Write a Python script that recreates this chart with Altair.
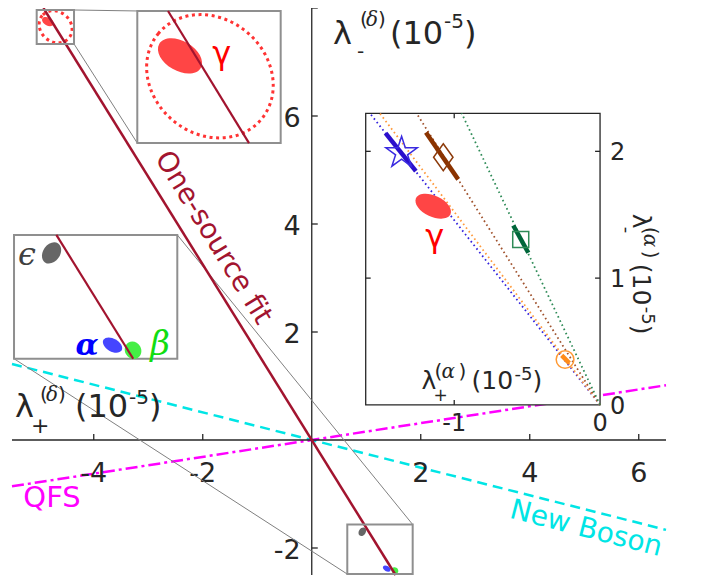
import altair as alt
import numpy as np
import pandas as pd

# ---------------- data ----------------
MAIN_X = [-5.5, 6.5]
MAIN_Y = [-2.5, 8.0]
X_TICKS = [-4, -2, 2, 4, 6]
X_TICK_TEXT = ["-4", "-2", "2", "4", "6"]
Y_TICKS = [-2, 2, 4, 6, 8]
Y_TICK_TEXT = ["-2", "2", "4", "6", ""]

FIT_SLOPE = -1.625      # one-source fit through the origin
QFS_SLOPE = 0.156
BOSON_SLOPE = -0.256

ELL_NAME = ["gamma", "epsilon", "alpha", "beta"]
ELL_X = [-4.843, 0.928, 1.376, 1.527]
ELL_Y = [7.749, -1.699, -2.382, -2.420]
GAMMA_CL_X = [-4.700]
GAMMA_CL_Y = [7.652]

TOP_SMALL_X = [-5.047, -4.362]
TOP_SMALL_Y = [7.334, 7.963]
TOP_BIG_X = [-3.201, -0.570]
TOP_BIG_Y = [5.499, 7.945]
BOT_SMALL_X = [0.652, 1.852]
BOT_SMALL_Y = [-2.483, -1.565]
BOT_BIG_X = [-5.463, -2.467]
BOT_BIG_Y = [1.505, 3.798]

INSET_POS_X = [0.99, 5.29]
INSET_POS_Y = [0.65, 6.05]
INSET_X = [-1.607, 0.0]
INSET_Y = [0.0, 2.3]
INSET_X_TICKS = [-1, 0]
INSET_X_TICK_TEXT = ["-1", "0"]
INSET_Y_TICKS = [0, 1, 2]
INSET_Y_TICK_TEXT = ["0", "1", "2"]

SRC = ["blue", "orange", "brown", "green"]
SRC_SLOPE = [-1.457, -1.523, -1.828, -2.423]
SRC_X = [-1.361, -0.240, -1.075, -0.544]
SRC_Y = [1.988, 0.358, 1.953, 1.304]
SEG_X1 = [-1.471, -0.263, -1.194, -0.595]
SEG_Y1 = [2.143, 0.390, 2.148, 1.415]
SEG_X2 = [-1.263, -0.211, -0.973, -0.492]
SEG_Y2 = [1.844, 0.330, 1.779, 1.200]
INSET_GAMMA_X = [-1.144]
INSET_GAMMA_Y = [1.567]

# label anchor positions (data coordinates of the frame they belong to)
LBL_FIT = (-1.812, 3.743)
LBL_QFS = (-4.766, -1.083)
LBL_BOSON = (5.033, -1.651)
LBL_GAMMA_BIG = (-1.652, 7.156)
LBL_EPS = (-5.225, 3.431)
LBL_ALPHA = (-4.124, 1.743)
LBL_BETA = (-2.784, 1.761)
LBL_YLAB = (0.39, 7.34)
LBL_XLAB = (-5.445, 0.422)
INS_LBL_GAMMA = (-1.133, 1.327)
INS_LBL_X = (-1.224, 0.127)
INS_LBL_Y = (0.2265, 1.507)

# ---------------- styles ----------------
W, H = 654, 567
PXX = W / (MAIN_X[1] - MAIN_X[0])
PXY = H / (MAIN_Y[1] - MAIN_Y[0])
AX = "#262626"
SANS = "DejaVu Sans"
SERIF = "DejaVu Serif"
C_FIT = "#A2142F"
C_QFS = "#FF00FF"
C_NB = "#00E5E5"
C_BOX = "#8F8F8F"

ELL_A_BIG = [24, 11.5, 10.5, 9.0]     # semi-major axis (px) as drawn in the magnified boxes
ELL_RATIO = [0.62, 0.74, 0.62, 0.9]
ELL_ANGLE = [30, 305, 30, 60]
ELL_COLOR = ["#FF4545", "#666666", "#4545FF", "#45EE45"]
CL_A_BIG, CL_RATIO, CL_ANGLE = 67, 0.86, 40

SRC_LINE_COLOR = ["#3322DD", "#FF9A3C", "#A0522D", "#2E8B57"]
SRC_SEG_COLOR = ["#2B0FCC", "#FF8C1A", "#8B3300", "#00663A"]
SRC_MARK_COLOR = ["#3A2BE0", "#FF9933", "#8C3A0A", "#2E8B57"]


def sc(d):
    return alt.Scale(domain=[float(d[0]), float(d[1])], nice=False, zero=False)


def mapped(main_dom, big, small):
    k = (small[1] - small[0]) / (big[1] - big[0])
    return [small[0] + (main_dom[0] - big[0]) * k, small[0] + (main_dom[1] - big[0]) * k]


FR_MAIN = (MAIN_X, MAIN_Y)
FR_TOP = (mapped(MAIN_X, TOP_BIG_X, TOP_SMALL_X), mapped(MAIN_Y, TOP_BIG_Y, TOP_SMALL_Y))
FR_BOT = (mapped(MAIN_X, BOT_BIG_X, BOT_SMALL_X), mapped(MAIN_Y, BOT_BIG_Y, BOT_SMALL_Y))
FR_INS = (mapped(MAIN_X, INSET_POS_X, INSET_X), mapped(MAIN_Y, INSET_POS_Y, INSET_Y))

M_TOP = (TOP_BIG_X[1] - TOP_BIG_X[0]) / (TOP_SMALL_X[1] - TOP_SMALL_X[0])
M_BOT = (BOT_BIG_X[1] - BOT_BIG_X[0]) / (BOT_SMALL_X[1] - BOT_SMALL_X[0])
IPX = (INSET_POS_X[1] - INSET_POS_X[0]) * PXX / (INSET_X[1] - INSET_X[0])
IPY = (INSET_POS_Y[1] - INSET_POS_Y[0]) * PXY / (INSET_Y[1] - INSET_Y[0])


def pos(fr):
    return dict(x=alt.X("x:Q", scale=sc(fr[0]), axis=None),
                y=alt.Y("y:Q", scale=sc(fr[1]), axis=None))


def seg_layer(fr, x1, y1, x2, y2, color=None, colors=None, **kw):
    df = pd.DataFrame({"x": x1, "y": y1, "x2": x2, "y2": y2})
    enc = pos(fr)
    enc.update(x2="x2:Q", y2="y2:Q")
    if colors is not None:
        df["c"] = colors
        enc["color"] = alt.Color("c:N", scale=None)
        return alt.Chart(df).mark_rule(**kw).encode(**enc)
    return alt.Chart(df).mark_rule(color=color, **kw).encode(**enc)


def rect_layer(fr, xr, yr, **kw):
    df = pd.DataFrame({"x": [xr[0]], "x2": [xr[1]], "y": [yr[0]], "y2": [yr[1]]})
    enc = pos(fr)
    enc.update(x2="x2:Q", y2="y2:Q")
    return alt.Chart(df).mark_rect(**kw).encode(**enc)


def ellipse_path(r):
    return f"M -1 0 A 1 {r} 0 1 0 1 0 A 1 {r} 0 1 0 -1 0 Z"


def star_path(inner=0.382):
    pts = []
    for k in range(10):
        r = 1.0 if k % 2 == 0 else inner
        th = -np.pi / 2 + k * np.pi / 5
        pts.append((r * np.cos(th), r * np.sin(th)))
    return "M " + " L ".join(f"{a:.3f} {b:.3f}" for a, b in pts) + " Z"


DIAMOND = "M 0 -1 L 0.72 0 L 0 1 L -0.72 0 Z"


def sym_layer(fr, xs, ys, shapes, sizes, angles, colors, filled, **kw):
    df = pd.DataFrame(dict(x=xs, y=ys, shape=shapes, size=sizes, angle=angles, c=colors))
    enc = pos(fr)
    enc.update(shape=alt.Shape("shape:N", scale=None), size=alt.Size("size:Q", scale=None),
               angle=alt.Angle("angle:Q", scale=None), color=alt.Color("c:N", scale=None))
    return alt.Chart(df).mark_point(filled=filled, opacity=1, **kw).encode(**enc)


def texts_layer(fr, xs, ys, texts, **kw):
    df = pd.DataFrame({"x": xs, "y": ys, "t": texts})
    enc = pos(fr)
    enc["text"] = alt.Text("t:N")
    return alt.Chart(df).mark_text(**kw).encode(**enc)


def text_layer(fr, xy, text, **kw):
    df = pd.DataFrame({"x": [xy[0]], "y": [xy[1]]})
    return alt.Chart(df).mark_text(text=text, **kw).encode(**pos(fr))


def rich(fr, xy, parts, angle=0, color=AX):
    out = []
    for txt, dx, dy, size, font, style in parts:
        kw = dict(dx=dx, dy=dy, fontSize=size, font=font, align="left",
                  baseline="alphabetic", color=color)
        if style:
            kw["fontStyle"] = style
        if angle:
            kw["angle"] = angle
        out.append(text_layer(fr, xy, txt, **kw))
    return out


def clip_origin_line(slope, bx, by):
    xs = sorted([by[0] / slope, by[1] / slope])
    lo, hi = max(bx[0], xs[0]), min(bx[1], xs[1])
    return lo, slope * lo, hi, slope * hi


layers = []

# ---- model lines ----
layers.append(seg_layer(FR_MAIN, [MAIN_X[0]], [BOSON_SLOPE * MAIN_X[0]], [MAIN_X[1]], [BOSON_SLOPE * MAIN_X[1]],
                        color=C_NB, strokeWidth=2.5, strokeDash=[10, 6]))
layers.append(seg_layer(FR_MAIN, [MAIN_X[0]], [QFS_SLOPE * MAIN_X[0]], [MAIN_X[1]], [QFS_SLOPE * MAIN_X[1]],
                        color=C_QFS, strokeWidth=2.5, strokeDash=[12, 4, 3, 4]))

# ---- main axes through the origin ----
layers.append(seg_layer(FR_MAIN, [MAIN_X[0], 0], [0, MAIN_Y[0]], [MAIN_X[1], 0], [0, MAIN_Y[1]],
                        color=AX, strokeWidth=1.3))
nxt, nyt = len(X_TICKS), len(Y_TICKS)
layers.append(seg_layer(FR_MAIN, X_TICKS, [0] * nxt, X_TICKS, [6 / PXY] * nxt, color=AX, strokeWidth=1.3))
layers.append(seg_layer(FR_MAIN, [0] * nyt, Y_TICKS, [6 / PXX] * nyt, Y_TICKS, color=AX, strokeWidth=1.3))
layers.append(texts_layer(FR_MAIN, X_TICKS, [0] * nxt, X_TICK_TEXT, dy=34, align="center",
                          baseline="middle", font=SANS, fontSize=27, color=AX))
yl = [(t, s) for t, s in zip(Y_TICKS, Y_TICK_TEXT) if s]
layers.append(texts_layer(FR_MAIN, [0] * len(yl), [t for t, _ in yl], [s for _, s in yl], dx=-11, dy=3,
                          align="right", baseline="middle", font=SANS, fontSize=27, color=AX))

# ---- connectors of the magnifiers ----
layers.append(seg_layer(
    FR_MAIN,
    [TOP_SMALL_X[1], TOP_SMALL_X[1], BOT_BIG_X[1], BOT_BIG_X[0]],
    [TOP_SMALL_Y[1], TOP_SMALL_Y[0], BOT_BIG_Y[1], BOT_BIG_Y[0]],
    [TOP_BIG_X[0], TOP_BIG_X[0], BOT_SMALL_X[1], BOT_SMALL_X[0]],
    [TOP_BIG_Y[1], TOP_BIG_Y[0], BOT_SMALL_Y[1], BOT_SMALL_Y[0]],
    color="#808080", strokeWidth=1))
layers.append(rect_layer(FR_MAIN, TOP_BIG_X, TOP_BIG_Y, fill="white", stroke=C_BOX, strokeWidth=2))
layers.append(rect_layer(FR_MAIN, BOT_BIG_X, BOT_BIG_Y, fill="white", stroke=C_BOX, strokeWidth=2))

# ---- ellipses at true scale ----
mags = [M_TOP, M_BOT, M_BOT, M_BOT]
layers.append(sym_layer(FR_MAIN, ELL_X, ELL_Y, [ellipse_path(r) for r in ELL_RATIO],
                        [(2 * a / m) ** 2 for a, m in zip(ELL_A_BIG, mags)], ELL_ANGLE, ELL_COLOR, True))
layers.append(sym_layer(FR_MAIN, GAMMA_CL_X, GAMMA_CL_Y, [ellipse_path(CL_RATIO)],
                        [(2 * CL_A_BIG / M_TOP) ** 2], [CL_ANGLE], ["#FF3333"], False,
                        strokeWidth=3, strokeDash=[3, 3.5]))
layers.append(seg_layer(FR_MAIN, [MAIN_Y[1] / FIT_SLOPE], [MAIN_Y[1]], [MAIN_Y[0] / FIT_SLOPE], [MAIN_Y[0]],
                        color=C_FIT, strokeWidth=2.5))
layers.append(rect_layer(FR_MAIN, TOP_SMALL_X, TOP_SMALL_Y, fill="white", fillOpacity=0, stroke=C_BOX, strokeWidth=2))
layers.append(rect_layer(FR_MAIN, BOT_SMALL_X, BOT_SMALL_Y, fill="white", fillOpacity=0, stroke=C_BOX, strokeWidth=2))

# ---- magnified content ----
layers.append(sym_layer(FR_TOP, ELL_X[:1], ELL_Y[:1], [ellipse_path(ELL_RATIO[0])],
                        [(2 * ELL_A_BIG[0]) ** 2], ELL_ANGLE[:1], ELL_COLOR[:1], True))
layers.append(sym_layer(FR_TOP, GAMMA_CL_X, GAMMA_CL_Y, [ellipse_path(CL_RATIO)],
                        [(2 * CL_A_BIG) ** 2], [CL_ANGLE], ["#FF3333"], False,
                        strokeWidth=3, strokeDash=[3, 3.6]))
x1, y1, x2, y2 = clip_origin_line(FIT_SLOPE, TOP_SMALL_X, TOP_SMALL_Y)
layers.append(seg_layer(FR_TOP, [x1], [y1], [x2], [y2], color=C_FIT, strokeWidth=2.2))
layers.append(sym_layer(FR_BOT, ELL_X[1:], ELL_Y[1:], [ellipse_path(r) for r in ELL_RATIO[1:]],
                        [(2 * a) ** 2 for a in ELL_A_BIG[1:]], ELL_ANGLE[1:], ELL_COLOR[1:], True))
x1, y1, x2, y2 = clip_origin_line(FIT_SLOPE, BOT_SMALL_X, BOT_SMALL_Y)
layers.append(seg_layer(FR_BOT, [x1], [y1], [x2], [y2], color=C_FIT, strokeWidth=2.2))

# ---- annotations ----
layers.append(text_layer(FR_MAIN, LBL_FIT, "One-source fit", angle=58.4, align="center", baseline="middle",
                         font=SANS, fontSize=28, color=C_FIT))
layers.append(text_layer(FR_MAIN, LBL_QFS, "QFS", align="center", baseline="middle",
                         font=SANS, fontSize=29, color=C_QFS))
layers.append(text_layer(FR_MAIN, LBL_BOSON, "New Boson", angle=14.4, align="center", baseline="middle",
                         font=SANS, fontSize=28, color=C_NB))
layers.append(text_layer(FR_MAIN, LBL_GAMMA_BIG, "γ", align="center", baseline="middle",
                         font=SANS, fontSize=32, color="#FF0000"))
layers.append(text_layer(FR_MAIN, LBL_EPS, "ϵ", align="center", baseline="middle",
                         font=SERIF, fontStyle="italic", fontSize=32, color="#404040"))
layers.append(text_layer(FR_MAIN, LBL_ALPHA, "α", align="center", baseline="middle",
                         font=SERIF, fontStyle="italic", fontWeight="bold", fontSize=30, color="#0000FF"))
layers.append(text_layer(FR_MAIN, LBL_BETA, "β", align="center", baseline="middle",
                         font=SERIF, fontStyle="italic", fontSize=34, color="#11DD11"))

# ---- main axis labels ----
layers += rich(FR_MAIN, LBL_YLAB, [
    ("λ", 0, 0, 32, SANS, None), ("-", 24, 14, 20, SANS, None),
    ("(", 27, -18, 20, SANS, None), ("δ", 33, -18, 20, SERIF, "italic"), (")", 45, -18, 20, SANS, None),
    ("(10", 57, 0, 32, SANS, None), ("-5", 111, -16, 20, SANS, None), (")", 131, 0, 32, SANS, None)])
layers += rich(FR_MAIN, LBL_XLAB, [
    ("λ", 0, 0, 32, SANS, None), ("+", 16, 16, 22, SANS, None),
    ("(", 25, -16, 20, SANS, None), ("δ", 31, -16, 20, SERIF, "italic"), (")", 43, -16, 20, SANS, None),
    ("(10", 60, 0, 32, SANS, None), ("-5", 114, -13, 20, SANS, None), (")", 134, 0, 32, SANS, None)])

# ---- inset ----
layers.append(rect_layer(FR_INS, INSET_X, INSET_Y, fill="white", stroke=AX, strokeWidth=1.3))
layers.append(seg_layer(FR_INS, [0] * 4, [0] * 4, [INSET_Y[1] / s for s in SRC_SLOPE], [INSET_Y[1]] * 4,
                        colors=SRC_LINE_COLOR, strokeWidth=1.8, strokeDash=[1.6, 3]))
layers.append(sym_layer(FR_INS, INSET_GAMMA_X, INSET_GAMMA_Y, [ellipse_path(0.55)], [(2 * 19) ** 2],
                        [25], ["#FF4545"], True))
layers.append(seg_layer(FR_INS, SEG_X1, SEG_Y1, SEG_X2, SEG_Y2, colors=SRC_SEG_COLOR, strokeWidth=4.5))
layers.append(sym_layer(FR_INS, SRC_X, SRC_Y, [star_path(), "circle", DIAMOND, "square"],
                        [(2 * 16.5) ** 2, 314, 27 ** 2, 256], [0, 0, 0, 0], SRC_MARK_COLOR, False,
                        strokeWidth=1.5))
layers.append(text_layer(FR_INS, INS_LBL_GAMMA, "γ", align="center", baseline="middle",
                         font=SANS, fontSize=32, color="#FF0000"))
tx, ty = 5 / IPX, 5 / IPY
layers.append(seg_layer(
    FR_INS,
    [INSET_X[0], INSET_X[0], INSET_X[1], INSET_X[1], -1, -1],
    [1, 2, 1, 2, INSET_Y[0], INSET_Y[1]],
    [INSET_X[0] + tx, INSET_X[0] + tx, INSET_X[1] - tx, INSET_X[1] - tx, -1, -1],
    [1, 2, 1, 2, INSET_Y[0] + ty, INSET_Y[1] - ty],
    color=AX, strokeWidth=1.3))
layers.append(texts_layer(FR_INS, INSET_X_TICKS, [INSET_Y[0]] * 2, INSET_X_TICK_TEXT, dy=19, align="center",
                          baseline="middle", font=SANS, fontSize=24, color=AX))
layers.append(texts_layer(FR_INS, [INSET_X[1]] * 3, INSET_Y_TICKS, INSET_Y_TICK_TEXT, dx=10, dy=2,
                          align="left", baseline="middle", font=SANS, fontSize=24, color=AX))
layers += rich(FR_INS, INS_LBL_X, [
    ("λ", 0, 0, 25, SANS, None), ("+", 12, 12, 17, SANS, None),
    ("(", 13, -11, 20, SANS, None), ("α", 20, -11, 20, SERIF, "italic"), (")", 37, -11, 20, SANS, None),
    ("(10", 50, 0, 25, SANS, None), ("-5", 93, -9, 18, SANS, None), (")", 111, 0, 25, SANS, None)])
layers += rich(FR_INS, INS_LBL_Y, [
    ("λ", 0, 0, 25, SANS, None), ("-", 13, 12, 18, SANS, None),
    ("(", 13, -11, 20, SANS, None), ("α", 20, -11, 20, SERIF, "italic"), (")", 37, -11, 20, SANS, None),
    ("(10", 50, 0, 25, SANS, None), ("-5", 93, -9, 18, SANS, None), (")", 111, 0, 25, SANS, None)],
    angle=90)

chart = alt.layer(*layers).resolve_scale(x="independent", y="independent").properties(
    width=W, height=H,
    padding={"left": 4, "top": 0, "right": 20, "bottom": 4},
    autosize=alt.AutoSizeParams(type="none"),
).configure_view(stroke="transparent")

chart.save("out.html", embed_options={"renderer": "svg", "actions": False})
